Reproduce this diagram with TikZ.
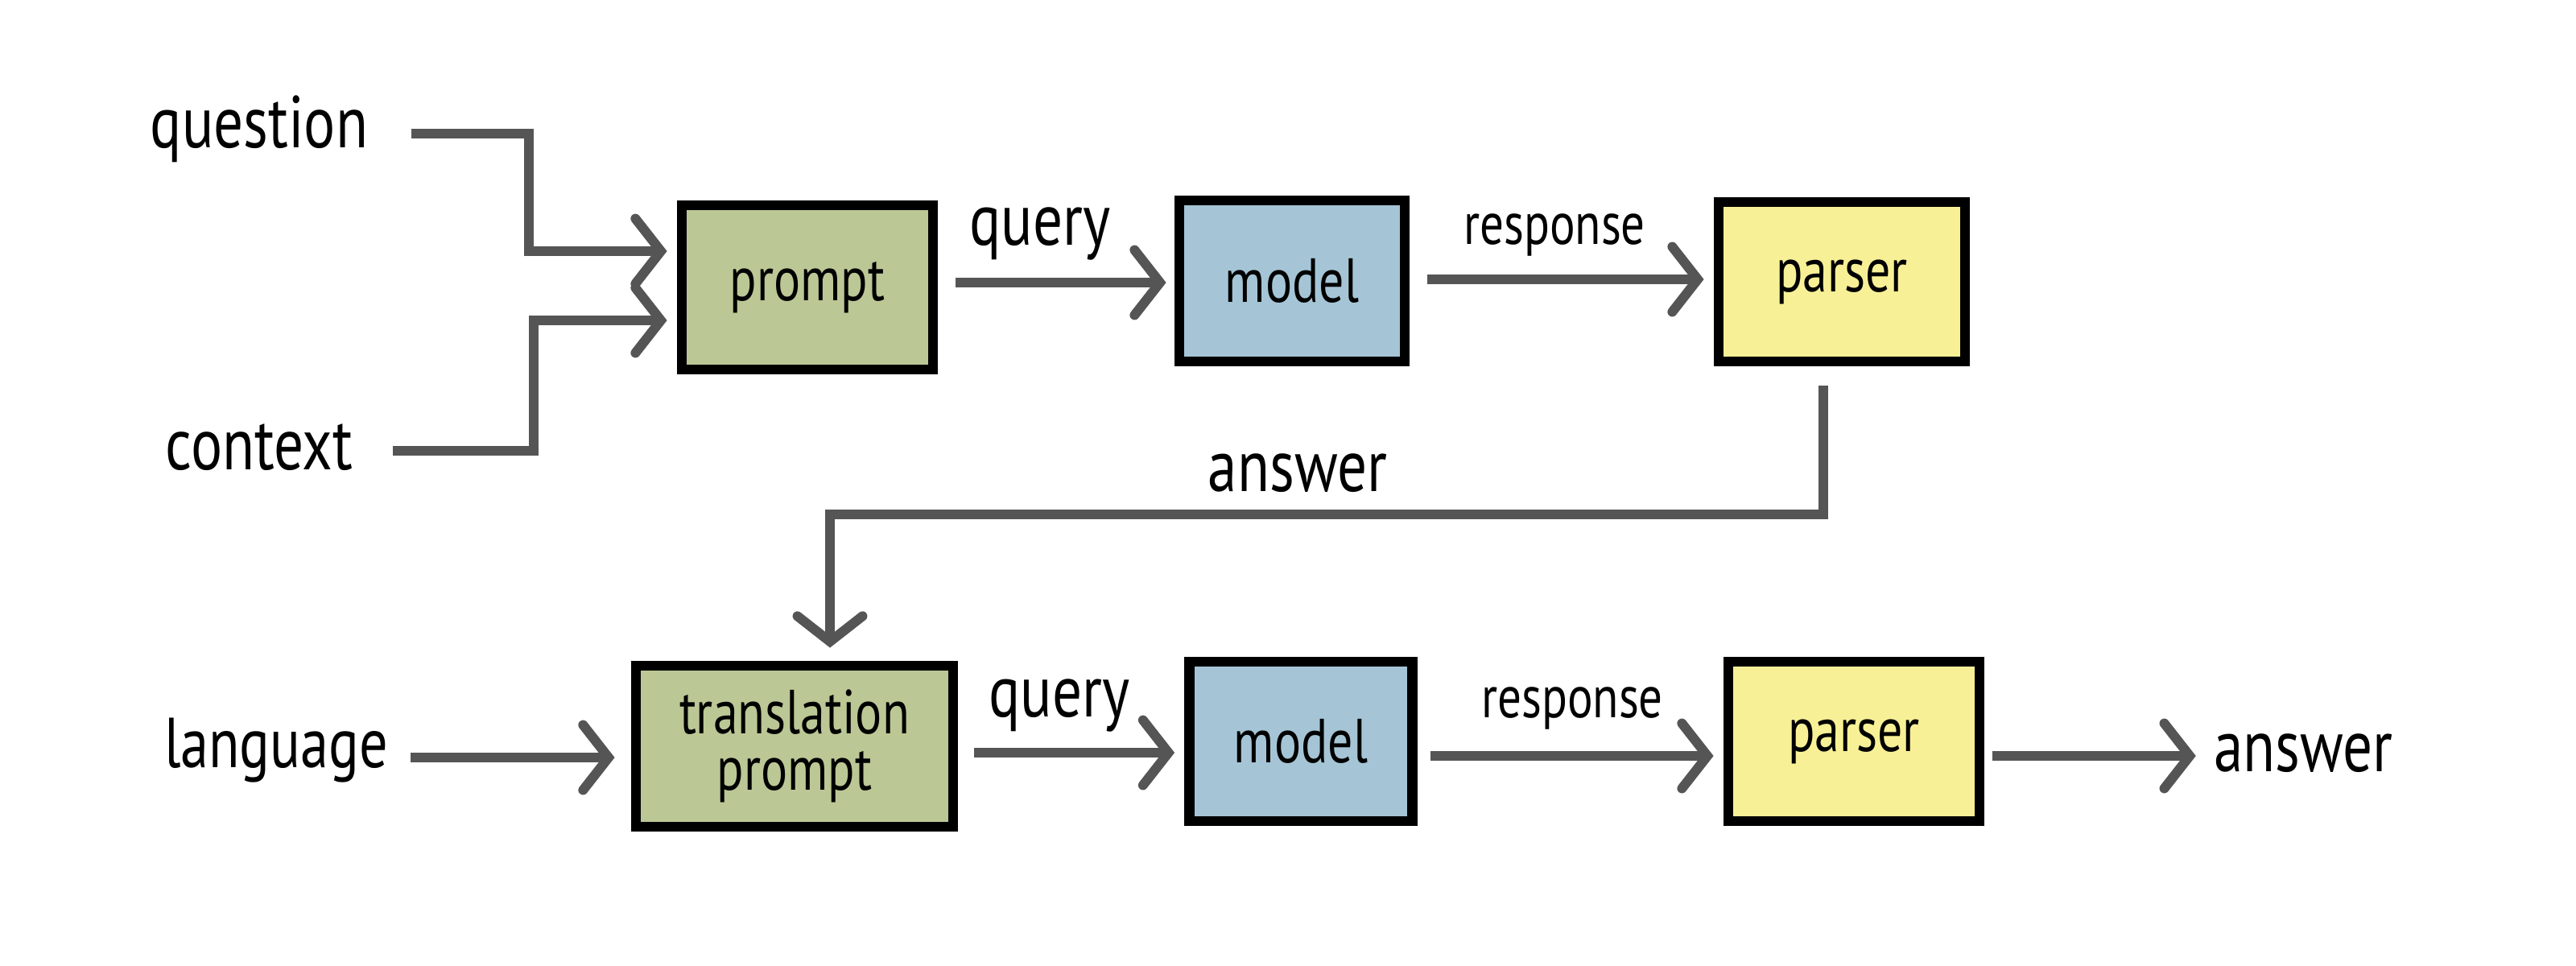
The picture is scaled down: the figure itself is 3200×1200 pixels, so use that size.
\documentclass[tikz,border=0pt]{standalone}
\usepackage{fontspec}
\setmainfont{PT Sans}[FakeStretch=0.8]
\usetikzlibrary{arrows.meta,calc}

\definecolor{promptgreen}{HTML}{BBC795}
\definecolor{modelblue}{HTML}{A5C5D6}
\definecolor{parseryellow}{HTML}{F8F096}
\definecolor{wire}{HTML}{555555}

\begin{document}
\begin{tikzpicture}[x=0.01cm,y=-0.01cm,
  block/.style={draw=black, line width=3.6pt, align=center,
    font=\fontsize{22}{24}\selectfont, inner sep=0pt},
  term/.style={font=\fontsize{26}{28}\selectfont, inner sep=1pt},
  flowlabel/.style={font=\fontsize{24}{26}\selectfont, inner sep=1pt},
  wireline/.style={draw=wire, line width=3.4pt, line join=miter},
  arr/.style={wireline, -{Straight Barb[length=9pt,width=23pt,line cap=round]}}]

\useasboundingbox (0,0) rectangle (3200,1200);

% ---- first pass: question answering ----
\node[term] (question) at (322,160) {question};
\node[term] (context)  at (322,556) {context};

\node[block, fill=promptgreen, minimum width=3.12cm, minimum height=2.04cm]
  (prompt) at (1003,357) {\raisebox{-6pt}{prompt}};
\node[block, fill=modelblue, minimum width=2.80cm, minimum height=2.00cm]
  (model) at (1605,349) {model};
\node[block, fill=parseryellow, minimum width=3.06cm, minimum height=1.98cm]
  (parser) at (2288,350) {\raisebox{-4pt}{parser}};

\node[flowlabel, font=\fontsize{26}{28}\selectfont] (q1) at (1292,290) {query};
\node[flowlabel, font=\fontsize{21}{23}\selectfont] (r1) at (1931,292) {response};

\coordinate (qin) at ($(prompt.west)+(-12,-45)$);
\coordinate (cin) at ($(prompt.west)+(-12,41)$);

\draw[arr] ($(question.east)+(50,6)$) -| ($(qin)+(-172,0)$) -- (qin);
\draw[arr] ($(context.east)+(46,4)$) -| ($(cin)+(-166,0)$) -- (cin);

\draw[arr] ($(prompt.east)+(22,-6)$) -- ($(model.west)+(-10,2)$);
\draw[arr] ($(model.east)+(22,-2)$) -- ($(parser.west)+(-12,-3)$);

% ---- feedback of the answer ----
\coordinate (loop) at (1600,639);
\node[flowlabel, font=\fontsize{26}{28}\selectfont] (a1) at (1612,588) {answer};

% ---- second pass: translation ----
\node[term, font=\fontsize{25}{27}\selectfont] (language) at (343,932) {language};

\node[block, fill=promptgreen, minimum width=3.94cm, minimum height=2.00cm]
  (tprompt) at (987,927) {translation\\[-4pt]prompt};
\node[block, fill=modelblue, minimum width=2.77cm, minimum height=1.98cm]
  (model2) at (1616,921) {model};
\node[block, fill=parseryellow, minimum width=3.12cm, minimum height=1.98cm]
  (parser2) at (2303,921) {\raisebox{-4pt}{parser}};

\node[flowlabel, font=\fontsize{26}{28}\selectfont] (q2) at (1316,876) {query};
\node[flowlabel, font=\fontsize{21}{23}\selectfont] (r2) at (1953,880) {response};
\node[term] (answer) at (2861,936) {answer};

\draw[arr] ([xshift=-0.23cm,yshift=-0.24cm]parser.south) |- (loop)
  -| ([xshift=0.44cm,yshift=0.16cm]tprompt.north);

\draw[arr] ($(language.east)+(24,9)$) -- ($(tprompt.west)+(-20,14)$);
\draw[arr] ($(tprompt.east)+(20,8)$) -- ($(model2.west)+(-12,14)$);
\draw[arr] ($(model2.east)+(16,18)$) -- ($(parser2.west)+(-12,18)$);
\draw[arr] ($(parser2.east)+(10,18)$) -- ($(answer.west)+(-18,3)$);

\end{tikzpicture}
\end{document}
